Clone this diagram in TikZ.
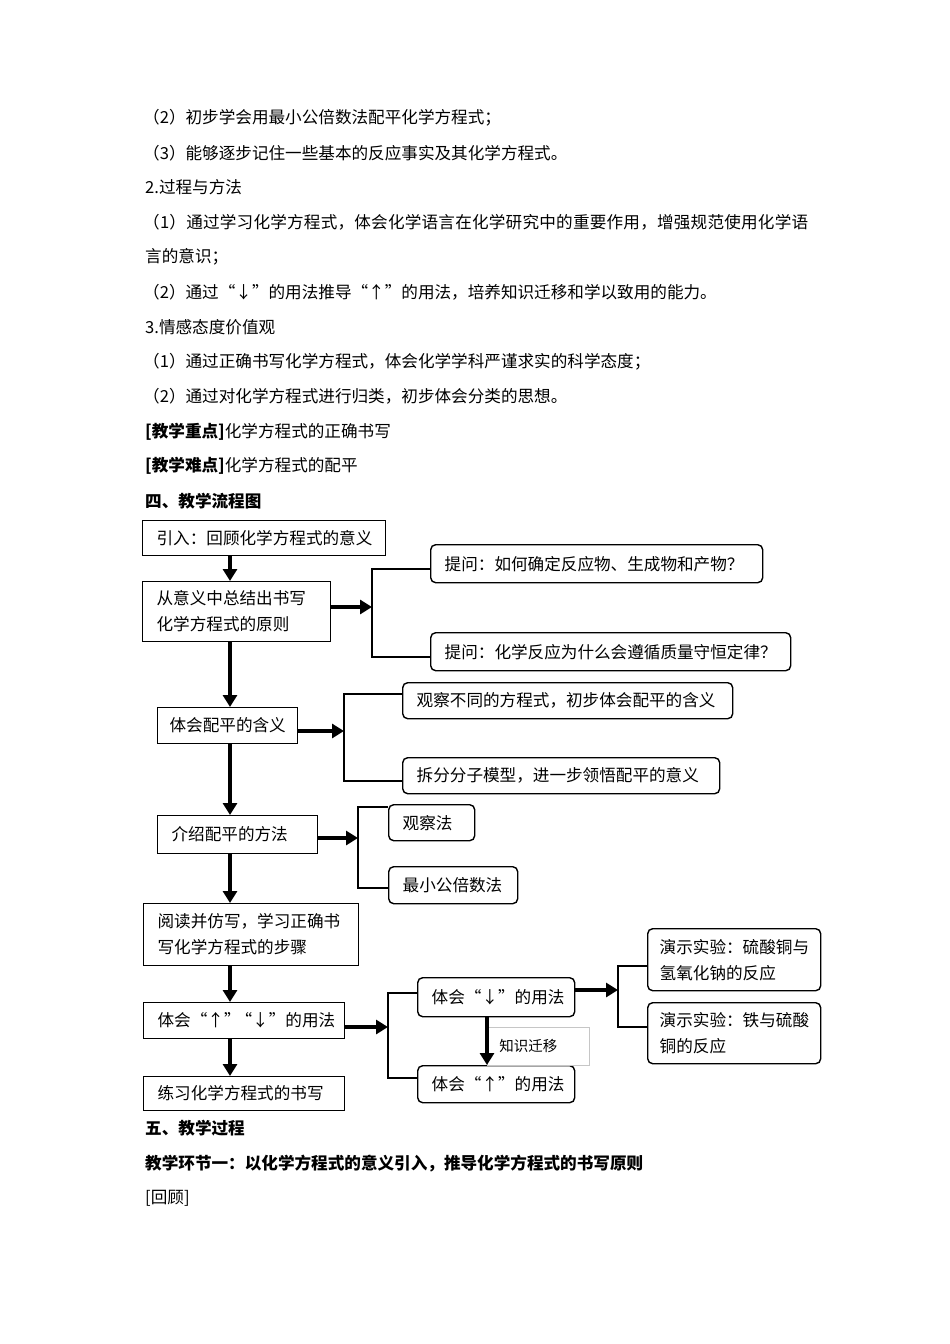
\documentclass[tikz,border=0pt]{standalone}
\usepackage{fontspec}
\setmainfont{Noto Sans CJK SC}
\usetikzlibrary{
		calc,
		positioning,
		arrows.meta
	}
\tikzset{
		>=stealth
	}

\begin{document}
\begin{tikzpicture}[x=1pt, y=-1pt,
	every node/.style={font=\fontsize{16.6}{26}\selectfont},
	txt/.style={anchor=west, inner sep=0pt},
	head/.style={txt, font=\fontsize{16.6}{26}\selectfont\bfseries},
	sqbox/.style={draw, line width=1.2pt, anchor=north west, align=left, inner xsep=14pt, inner ysep=0pt},
	rdbox/.style={sqbox, rounded corners=5pt, line width=1.4pt},
	bigarrow/.style={line width=3.5pt, -{Triangle[length=12pt,width=14pt]}},
	bracket/.style={line width=2.2pt}]
	\fill[white] (0,0) rectangle (950,1344);
	\useasboundingbox (0,0) rectangle (950,1344);
	% text above the chart
	\node[txt] (t1) at (143,118) {（2）初步学会用最小公倍数法配平化学方程式；};
	\node[txt] (t2) at (143,153) {（3）能够逐步记住一些基本的反应事实及其化学方程式。};
	\node[txt] (t3) at (145,187) {2.过程与方法};
	\node[txt] (t4) at (143,222) {\addfontfeature{LetterSpace=1.3}（1）通过学习化学方程式，体会化学语言在化学研究中的重要作用，增强规范使用化学语};
	\node[txt] (t5) at (145,257) {言的意识；};
	\node[txt] (t6) at (143,292) {（2）通过“↓”的用法推导“↑”的用法，培养知识迁移和学以致用的能力。};
	\node[txt] (t7) at (145,327) {3.情感态度价值观};
	\node[txt] (t8) at (143,362) {（1）通过正确书写化学方程式，体会化学学科严谨求实的科学态度；};
	\node[txt] (t9) at (143,396) {（2）通过对化学方程式进行归类，初步体会分类的思想。};
	\node[txt] (t10) at (145,432) {{\bfseries [教学重点]}化学方程式的正确书写};
	\node[txt] (t11) at (145,466) {{\bfseries [教学难点]}化学方程式的配平};
	\node[head] (h4) at (145,501) {四、教学流程图};
	% main column
	\node[sqbox, text width=215pt, minimum height=35pt] (intro) at (142,520) {引入：回顾化学方程式的意义};
	\node[sqbox, text width=160pt, minimum height=60pt] (sum) at (142,581) {从意义中总结出书写\\化学方程式的原则};
	\node[sqbox, inner xsep=12pt, text width=116pt, minimum height=36pt] (mean) at (157,707) {体会配平的含义};
	\node[sqbox, text width=132pt, minimum height=38pt] (meth) at (157,815) {介绍配平的方法};
	\node[sqbox, text width=187pt, minimum height=62pt] (read) at (143,903) {阅读并仿写，学习正确书\\写化学方程式的步骤};
	\node[sqbox, text width=173pt, minimum height=36pt] (marks) at (143,1002) {体会“↑”\kern-5pt“↓”的用法};
	\node[sqbox, text width=173pt, minimum height=34pt] (prac) at (143,1076) {练习化学方程式的书写};
	% side boxes
	\node[rdbox, text width=304pt, minimum height=38pt] (ask1) at (430,544) {提问：如何确定反应物、生成物和产物？};
	\node[rdbox, text width=332pt, minimum height=38pt] (ask2) at (430,632) {提问：化学反应为什么会遵循质量守恒定律？};
	\node[rdbox, text width=302pt, minimum height=36pt] (look) at (402,682) {观察不同的方程式，初步体会配平的含义};
	\node[rdbox, text width=289pt, minimum height=36pt] (model) at (402,757) {拆分分子模型，进一步领悟配平的意义};
	\node[rdbox, text width=58pt, minimum height=36pt] (insp) at (388,804) {观察法};
	\node[rdbox, text width=101pt, minimum height=37pt] (lcm) at (388,866) {最小公倍数法};
	\node[rdbox, text width=129pt, minimum height=39pt] (down) at (417,977) {体会“↓”的用法};
	\node[rdbox, text width=129pt, minimum height=37pt] (up) at (417,1065) {体会“↑”的用法};
	\node[rdbox, inner xsep=12pt, text width=149pt, minimum height=62pt] (expa) at (647,928) {演示实验：硫酸铜与\\氢氧化钠的反应};
	\node[rdbox, inner xsep=12pt, text width=149pt, minimum height=61pt] (expb) at (647,1002) {演示实验：铁与硫酸\\铜的反应};
	\node[draw=gray!45, line width=0.6pt, anchor=north west, minimum width=102pt, minimum height=38pt,
		inner xsep=12pt, text width=78pt, font=\fontsize{14.5}{18}\selectfont] (tag) at (487,1027) {知识迁移};
	% joints of the brackets
	\coordinate (spine) at (230,0);
	\coordinate (k1) at (372,607);
	\coordinate (k2) at (344,731);
	\coordinate (k3) at (358,838);
	\coordinate (k4) at (388,1027);
	\coordinate (k5) at (618,990);
	% down the main column
	\draw[bigarrow] (intro.south -| spine) -- (sum.north -| spine);
	\draw[bigarrow] (sum.south -| spine) -- (mean.north -| spine);
	\draw[bigarrow] (mean.south -| spine) -- (meth.north -| spine);
	\draw[bigarrow] (meth.south -| spine) -- (read.north -| spine);
	\draw[bigarrow] (read.south -| spine) -- (marks.north -| spine);
	\draw[bigarrow] (marks.south -| spine) -- (prac.north -| spine);
	% out to the brackets
	\draw[bigarrow] (sum.east |- k1) -- (k1);
	\draw[bigarrow] (mean.east |- k2) -- (k2);
	\draw[bigarrow] (meth.east |- k3) -- (k3);
	\draw[bigarrow] (marks.east |- k4) -- (k4);
	\draw[bigarrow] (down.east |- k5) -- (k5);
	\draw[bigarrow] (down.south -| tag.west) -- (up.north -| tag.west);
	\draw[bracket] ($(ask1.west)+(0,5)$) -| (k1) |- ($(ask2.west)+(0,5)$);
	\draw[bracket] ($(look.west)+(0,-7)$) -| (k2) |- ($(model.west)+(0,5)$);
	\draw[bracket] ($(insp.west)+(0,-16)$) -| (k3) |- ($(lcm.west)+(0,3)$);
	\draw[bracket] ($(down.west)+(0,-4)$) -| (k4) |- ($(up.west)+(0,-6)$);
	\draw[bracket] ($(expa.west)+(0,6)$) -| (k5) |- ($(expb.west)+(0,-6)$);
	% text below the chart
	\node[head] (h5) at (145,1128) {五、教学过程};
	\node[head] (h6) at (145,1164) {教学环节一：以化学方程式的意义引入，推导化学方程式的书写原则};
	\node[txt] (t12) at (145,1198) {[回顾]};
\end{tikzpicture}
\end{document}
